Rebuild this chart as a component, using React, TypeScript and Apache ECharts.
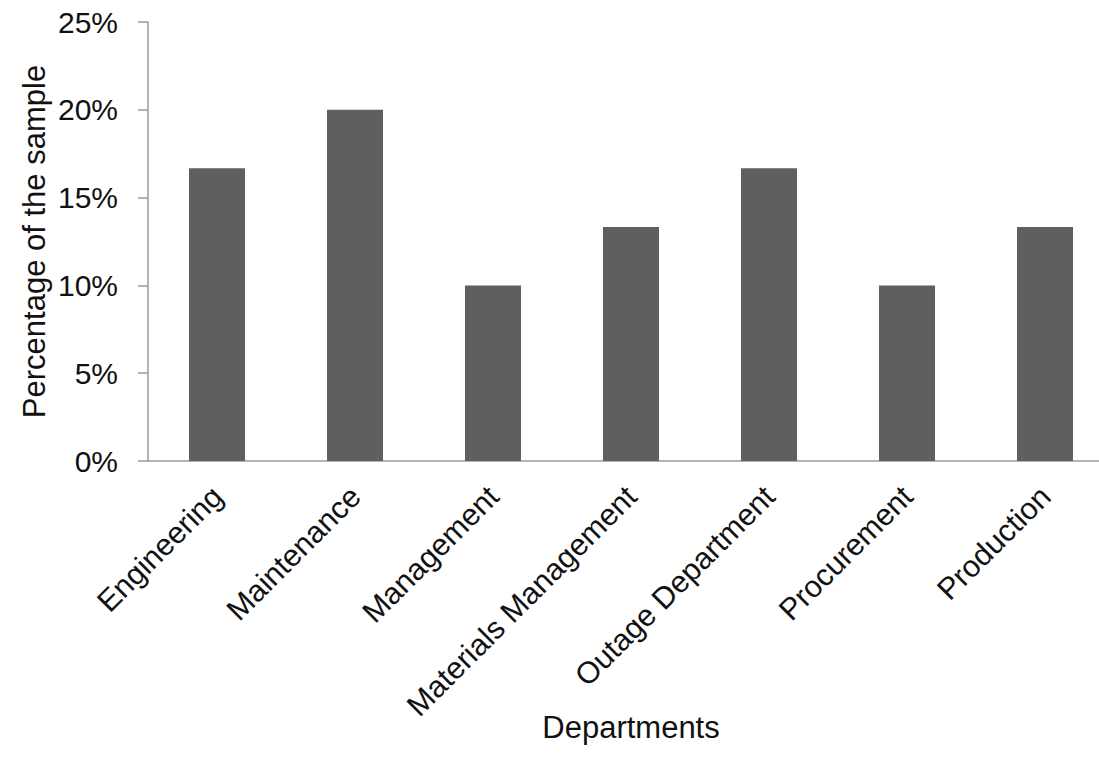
import React, { useEffect, useRef } from "react";
import * as echarts from "echarts";

// Share of respondents by department (percent of the sample)
const departments = [
  "Engineering",
  "Maintenance",
  "Management",
  "Materials Management",
  "Outage Department",
  "Procurement",
  "Production",
];
const sharePercent = [16.67, 20, 10, 13.33, 16.67, 10, 13.33];

const yMin = 0;
const yMax = 25;
const yStep = 5;

const FONT = "'Liberation Sans', Arial, sans-serif";
const TEXT_COLOR = "#111";
const AXIS_COLOR = "#9a9a9a";
const BAR_COLOR = "#5f5f5f";

export default function App() {
  const ref = useRef<HTMLDivElement>(null);

  useEffect(() => {
    if (!ref.current) return;
    const chart = echarts.init(ref.current, undefined, { renderer: "svg" });
    chart.setOption({
      animation: false,
      backgroundColor: "#ffffff",
      textStyle: { fontFamily: FONT },
      grid: { left: 148, right: 16, top: 22, bottom: 310, containLabel: false },
      xAxis: {
        type: "category",
        data: departments,
        name: "Departments",
        nameLocation: "middle",
        nameGap: 251,
        nameMoveOverlap: false,
        nameTextStyle: { fontSize: 31, color: TEXT_COLOR, fontFamily: FONT },
        axisLine: { lineStyle: { color: AXIS_COLOR, width: 1.5 } },
        axisTick: { show: false },
        axisLabel: {
          rotate: 45,
          interval: 0,
          margin: 30,
          fontSize: 30.5,
          color: TEXT_COLOR,
          fontFamily: FONT,
        },
      },
      yAxis: {
        type: "value",
        min: yMin,
        max: yMax,
        interval: yStep,
        name: "Percentage of the sample",
        nameLocation: "middle",
        nameRotate: 90,
        nameGap: 98,
        nameMoveOverlap: false,
        nameTextStyle: { fontSize: 31, color: TEXT_COLOR, fontFamily: FONT },
        splitLine: { show: false },
        axisLine: { show: true, lineStyle: { color: AXIS_COLOR, width: 1.5 } },
        axisTick: { show: true, length: 10, lineStyle: { color: AXIS_COLOR, width: 1.5 } },
        axisLabel: {
          formatter: "{value}%",
          margin: 30,
          fontSize: 30,
          color: TEXT_COLOR,
          fontFamily: FONT,
        },
      },
      series: [
        {
          type: "bar",
          data: sharePercent,
          barWidth: 56,
          itemStyle: { color: BAR_COLOR },
        },
      ],
    });
    return () => chart.dispose();
  }, []);

  return (
    <div
      style={{
        position: "fixed",
        left: 0,
        top: 0,
        width: 1099,
        height: 771,
        overflow: "hidden",
        background: "#fff",
      }}
    >
      <div ref={ref} style={{ width: 1130, height: 771 }} />
    </div>
  );
}
